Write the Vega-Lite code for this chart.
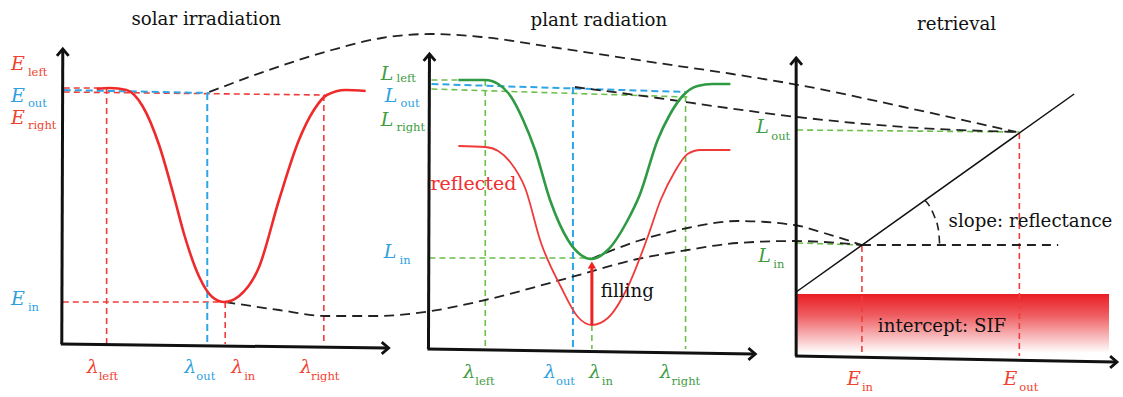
{
  "$schema": "https://vega.github.io/schema/vega-lite/v6.json",
  "autosize": {"type": "fit", "contains": "padding"},
  "width": 1123,
  "height": 397,
  "padding": 0,
  "background": "white",
  "config": {"view": {"stroke": null}},
  "datasets": {
    "axes": [
      {"x": 62, "y": 344, "x2": 63, "y2": 51},
      {"x": 61, "y": 344, "x2": 388, "y2": 348},
      {"x": 430, "y": 349, "x2": 431, "y2": 56},
      {"x": 429, "y": 349, "x2": 756, "y2": 354},
      {"x": 799, "y": 356, "x2": 799, "y2": 60},
      {"x": 798, "y": 356, "x2": 1119, "y2": 362}
    ],
    "arrUp": [{"x": 63, "y": 49}, {"x": 431, "y": 54}, {"x": 799, "y": 58}],
    "arrRight": [{"x": 390, "y": 348}, {"x": 758, "y": 354}, {"x": 1121, "y": 362}],
    "redDash": [
      {"x": 64, "y": 88, "x2": 110, "y2": 88},
      {"x": 64, "y": 92, "x2": 326, "y2": 95},
      {"x": 107, "y": 88, "x2": 107, "y2": 344},
      {"x": 226, "y": 302, "x2": 226, "y2": 344},
      {"x": 325, "y": 95, "x2": 325, "y2": 344},
      {"x": 63, "y": 302, "x2": 226, "y2": 302},
      {"x": 1023, "y": 133, "x2": 1023, "y2": 356},
      {"x": 865, "y": 246, "x2": 865, "y2": 356}
    ],
    "blueDash": [
      {"x": 64, "y": 90, "x2": 210, "y2": 93},
      {"x": 208, "y": 93, "x2": 208, "y2": 344},
      {"x": 433, "y": 84, "x2": 688, "y2": 92},
      {"x": 575, "y": 87, "x2": 575, "y2": 349}
    ],
    "greenDash": [
      {"x": 433, "y": 80, "x2": 490, "y2": 80},
      {"x": 433, "y": 89, "x2": 690, "y2": 97},
      {"x": 487, "y": 80, "x2": 487, "y2": 349},
      {"x": 594, "y": 325, "x2": 594, "y2": 349},
      {"x": 688, "y": 96, "x2": 688, "y2": 349},
      {"x": 431, "y": 258, "x2": 593, "y2": 258},
      {"x": 800, "y": 130, "x2": 1023, "y2": 132},
      {"x": 800, "y": 243, "x2": 865, "y2": 245}
    ],
    "blackDash": [
      {"x": 865, "y": 245, "x2": 1062, "y2": 245}
    ],
    "diag": [
      {"x": 799, "y": 292, "x2": 1078, "y2": 94}
    ],
    "fillArrow": [
      {"x": 594, "y": 325, "x2": 594, "y2": 266}
    ],
    "fillHead": [{"x": 594, "y": 265}],
    "solar": [
      {"x": 97, "y": 89}, {"x": 110, "y": 88}, {"x": 127, "y": 90}, {"x": 143, "y": 106},
      {"x": 160, "y": 146}, {"x": 175, "y": 198}, {"x": 185, "y": 235}, {"x": 200, "y": 277},
      {"x": 213, "y": 297}, {"x": 225, "y": 302}, {"x": 240, "y": 296}, {"x": 260, "y": 267},
      {"x": 280, "y": 200}, {"x": 300, "y": 140}, {"x": 315, "y": 110}, {"x": 328, "y": 95},
      {"x": 347, "y": 90}, {"x": 367, "y": 91}
    ],
    "green": [
      {"x": 460, "y": 80}, {"x": 487, "y": 80}, {"x": 500, "y": 84}, {"x": 513, "y": 97},
      {"x": 525, "y": 120}, {"x": 537, "y": 150}, {"x": 552, "y": 200}, {"x": 570, "y": 240},
      {"x": 583, "y": 255}, {"x": 593, "y": 259}, {"x": 610, "y": 250}, {"x": 630, "y": 220},
      {"x": 642, "y": 195}, {"x": 660, "y": 140}, {"x": 672, "y": 115}, {"x": 685, "y": 96},
      {"x": 700, "y": 86}, {"x": 715, "y": 84}, {"x": 733, "y": 84}
    ],
    "refl": [
      {"x": 460, "y": 146}, {"x": 487, "y": 147}, {"x": 500, "y": 151}, {"x": 512, "y": 162},
      {"x": 527, "y": 188}, {"x": 543, "y": 243}, {"x": 563, "y": 287}, {"x": 580, "y": 317},
      {"x": 594, "y": 325}, {"x": 610, "y": 318}, {"x": 630, "y": 287}, {"x": 650, "y": 237},
      {"x": 663, "y": 200}, {"x": 677, "y": 172}, {"x": 690, "y": 154}, {"x": 703, "y": 150},
      {"x": 733, "y": 150}
    ],
    "dcurves": [
      {"id": "top", "x": 210, "y": 92}, {"id": "top", "x": 267, "y": 71}, {"id": "top", "x": 333, "y": 50},
      {"id": "top", "x": 383, "y": 38}, {"id": "top", "x": 433, "y": 34}, {"id": "top", "x": 483, "y": 37},
      {"id": "top", "x": 560, "y": 48}, {"id": "top", "x": 660, "y": 63}, {"id": "top", "x": 735, "y": 74},
      {"id": "top", "x": 807, "y": 86}, {"id": "top", "x": 907, "y": 107}, {"id": "top", "x": 1020, "y": 132},
      {"id": "out", "x": 577, "y": 87}, {"id": "out", "x": 660, "y": 98}, {"id": "out", "x": 730, "y": 108},
      {"id": "out", "x": 800, "y": 117}, {"id": "out", "x": 907, "y": 127}, {"id": "out", "x": 1020, "y": 132},
      {"id": "ein", "x": 226, "y": 302}, {"id": "ein", "x": 280, "y": 310}, {"id": "ein", "x": 327, "y": 316},
      {"id": "ein", "x": 380, "y": 316}, {"id": "ein", "x": 433, "y": 311}, {"id": "ein", "x": 487, "y": 300},
      {"id": "ein", "x": 570, "y": 278}, {"id": "ein", "x": 640, "y": 259}, {"id": "ein", "x": 690, "y": 250},
      {"id": "ein", "x": 740, "y": 243}, {"id": "ein", "x": 797, "y": 241}, {"id": "ein", "x": 865, "y": 245},
      {"id": "lin", "x": 593, "y": 259}, {"id": "lin", "x": 640, "y": 241}, {"id": "lin", "x": 690, "y": 228},
      {"id": "lin", "x": 740, "y": 221}, {"id": "lin", "x": 797, "y": 225}, {"id": "lin", "x": 827, "y": 233},
      {"id": "lin", "x": 865, "y": 245}
    ],
    "arc": [
      {"x": 928, "y": 200}, {"x": 934, "y": 208}, {"x": 938, "y": 217},
      {"x": 941, "y": 226}, {"x": 942.4, "y": 235}, {"x": 943, "y": 245}
    ],
    "sif": [{"x": 800, "y": 294, "x2": 1113, "y2": 353}],
    "titles": [
      {"x": 207, "y": 25, "t": "solar irradiation"},
      {"x": 601, "y": 26, "t": "plant radiation"},
      {"x": 960, "y": 30, "t": "retrieval"}
    ],
    "notes": [
      {"x": 603, "y": 297, "t": "filling"},
      {"x": 952, "y": 227, "t": "slope: reflectance"},
      {"x": 881, "y": 332, "t": "intercept: SIF"}
    ],
    "reflected": [{"x": 432, "y": 190, "t": "reflected"}],
    "ital": [
      {"x": 11, "y": 70, "t": "E", "g": "r"},
      {"x": 11, "y": 102, "t": "E", "g": "b"},
      {"x": 11, "y": 124, "t": "E", "g": "r"},
      {"x": 11, "y": 305, "t": "E", "g": "b"},
      {"x": 87, "y": 373, "t": "λ", "g": "r"},
      {"x": 185, "y": 373, "t": "λ", "g": "b"},
      {"x": 232, "y": 373, "t": "λ", "g": "r"},
      {"x": 301, "y": 373, "t": "λ", "g": "r"},
      {"x": 382, "y": 80, "t": "L", "g": "g"},
      {"x": 386, "y": 102, "t": "L", "g": "b"},
      {"x": 382, "y": 126, "t": "L", "g": "g"},
      {"x": 385, "y": 258, "t": "L", "g": "b"},
      {"x": 465, "y": 378, "t": "λ", "g": "g"},
      {"x": 546, "y": 378, "t": "λ", "g": "b"},
      {"x": 591, "y": 378, "t": "λ", "g": "g"},
      {"x": 662, "y": 378, "t": "λ", "g": "g"},
      {"x": 759, "y": 133, "t": "L", "g": "g"},
      {"x": 761, "y": 262, "t": "L", "g": "g"},
      {"x": 850, "y": 385, "t": "E", "g": "r"},
      {"x": 1007, "y": 385, "t": "E", "g": "r"}
    ],
    "subs": [
      {"x": 28, "y": 76, "t": "left", "g": "r"},
      {"x": 28, "y": 107, "t": "out", "g": "b"},
      {"x": 28, "y": 129, "t": "right", "g": "r"},
      {"x": 28, "y": 311, "t": "in", "g": "b"},
      {"x": 99, "y": 380, "t": "left", "g": "r"},
      {"x": 197, "y": 380, "t": "out", "g": "b"},
      {"x": 245, "y": 380, "t": "in", "g": "r"},
      {"x": 312, "y": 380, "t": "right", "g": "r"},
      {"x": 398, "y": 82, "t": "left", "g": "g"},
      {"x": 402, "y": 107, "t": "out", "g": "b"},
      {"x": 398, "y": 131, "t": "right", "g": "g"},
      {"x": 401, "y": 264, "t": "in", "g": "b"},
      {"x": 477, "y": 385, "t": "left", "g": "g"},
      {"x": 558, "y": 385, "t": "out", "g": "b"},
      {"x": 604, "y": 385, "t": "in", "g": "g"},
      {"x": 674, "y": 385, "t": "right", "g": "g"},
      {"x": 774, "y": 140, "t": "out", "g": "g"},
      {"x": 776, "y": 268, "t": "in", "g": "g"},
      {"x": 865, "y": 391, "t": "in", "g": "r"},
      {"x": 1023, "y": 391, "t": "out", "g": "r"}
    ]
  },
  "encoding": {
    "x": {"field": "x", "type": "quantitative", "axis": null, "scale": {"domain": [0, 1123], "nice": false, "zero": false}},
    "y": {"field": "y", "type": "quantitative", "axis": null, "scale": {"domain": [0, 397], "nice": false, "zero": false, "reverse": true}}
  },
  "layer": [
    {
      "data": {"name": "sif"},
      "mark": {"type": "rect", "color": {"gradient": "linear", "x1": 0, "y1": 0, "x2": 0, "y2": 1, "stops": [{"offset": 0, "color": "#e91e24"}, {"offset": 0.35, "color": "#ee5a5e"}, {"offset": 1, "color": "#ffffff"}]}},
      "encoding": {"x2": {"field": "x2"}, "y2": {"field": "y2"}}
    },
    {
      "data": {"name": "redDash"},
      "mark": {"type": "rule", "color": "#f03c3c", "strokeWidth": 1.6, "strokeDash": [6, 4]},
      "encoding": {"x2": {"field": "x2"}, "y2": {"field": "y2"}}
    },
    {
      "data": {"name": "greenDash"},
      "mark": {"type": "rule", "color": "#6cbf4a", "strokeWidth": 1.6, "strokeDash": [6, 4]},
      "encoding": {"x2": {"field": "x2"}, "y2": {"field": "y2"}}
    },
    {
      "data": {"name": "blueDash"},
      "mark": {"type": "rule", "color": "#2ea6e6", "strokeWidth": 2, "strokeDash": [7, 4]},
      "encoding": {"x2": {"field": "x2"}, "y2": {"field": "y2"}}
    },
    {
      "data": {"name": "blackDash"},
      "mark": {"type": "rule", "color": "#222222", "strokeWidth": 1.8, "strokeDash": [9, 6]},
      "encoding": {"x2": {"field": "x2"}, "y2": {"field": "y2"}}
    },
    {
      "data": {"name": "dcurves"},
      "mark": {"type": "line", "color": "#222222", "strokeWidth": 1.8, "strokeDash": [10, 6], "interpolate": "monotone"},
      "encoding": {"detail": {"field": "id", "type": "nominal"}}
    },
    {
      "data": {"name": "arc"},
      "mark": {"type": "line", "color": "#222222", "strokeWidth": 1.6, "strokeDash": [8, 5], "interpolate": "monotone"},
      "encoding": {}
    },
    {
      "data": {"name": "solar"},
      "mark": {"type": "line", "color": "#ee2a2a", "strokeWidth": 2.6, "interpolate": "monotone"},
      "encoding": {}
    },
    {
      "data": {"name": "refl"},
      "mark": {"type": "line", "color": "#f03a3a", "strokeWidth": 1.8, "interpolate": "monotone"},
      "encoding": {}
    },
    {
      "data": {"name": "green"},
      "mark": {"type": "line", "color": "#2e9a44", "strokeWidth": 2.6, "interpolate": "monotone"},
      "encoding": {}
    },
    {
      "data": {"name": "diag"},
      "mark": {"type": "rule", "color": "#111111", "strokeWidth": 1.5},
      "encoding": {"x2": {"field": "x2"}, "y2": {"field": "y2"}}
    },
    {
      "data": {"name": "axes"},
      "mark": {"type": "rule", "color": "#111111", "strokeWidth": 3},
      "encoding": {"x2": {"field": "x2"}, "y2": {"field": "y2"}}
    },
    {
      "data": {"name": "arrUp"},
      "mark": {"type": "point", "shape": "M-0.85,1L0,0L0.85,1", "filled": false, "color": "#111111", "strokeWidth": 2.8, "size": 190, "opacity": 1},
      "encoding": {}
    },
    {
      "data": {"name": "arrRight"},
      "mark": {"type": "point", "shape": "M-1,-0.85L0,0L-1,0.85", "filled": false, "color": "#111111", "strokeWidth": 2.8, "size": 190, "opacity": 1},
      "encoding": {}
    },
    {
      "data": {"name": "fillArrow"},
      "mark": {"type": "rule", "color": "#ee2222", "strokeWidth": 3},
      "encoding": {"x2": {"field": "x2"}, "y2": {"field": "y2"}}
    },
    {
      "data": {"name": "fillHead"},
      "mark": {"type": "point", "shape": "triangle-up", "filled": true, "color": "#ee2222", "size": 70, "opacity": 1},
      "encoding": {}
    },
    {
      "data": {"name": "titles"},
      "mark": {"type": "text", "font": "DejaVu Serif", "fontSize": 18.2, "color": "#111111", "align": "center", "baseline": "alphabetic"},
      "encoding": {"text": {"field": "t"}}
    },
    {
      "data": {"name": "notes"},
      "mark": {"type": "text", "font": "DejaVu Serif", "fontSize": 18.2, "color": "#111111", "align": "left", "baseline": "alphabetic"},
      "encoding": {"text": {"field": "t"}}
    },
    {
      "data": {"name": "reflected"},
      "mark": {"type": "text", "font": "DejaVu Serif", "fontSize": 19, "color": "#ee3030", "align": "left", "baseline": "alphabetic"},
      "encoding": {"text": {"field": "t"}}
    },
    {
      "data": {"name": "ital"},
      "mark": {"type": "text", "font": "DejaVu Serif", "fontStyle": "italic", "fontSize": 19, "align": "left", "baseline": "alphabetic"},
      "encoding": {
        "text": {"field": "t"},
        "color": {"field": "g", "type": "nominal", "legend": null, "scale": {"domain": ["r", "b", "g"], "range": ["#f0432f", "#2f9fe0", "#3f9c3f"]}}
      }
    },
    {
      "data": {"name": "subs"},
      "mark": {"type": "text", "font": "DejaVu Serif", "fontSize": 11.5, "align": "left", "baseline": "alphabetic"},
      "encoding": {
        "text": {"field": "t"},
        "color": {"field": "g", "type": "nominal", "legend": null, "scale": {"domain": ["r", "b", "g"], "range": ["#f0432f", "#2f9fe0", "#3f9c3f"]}}
      }
    }
  ]
}
